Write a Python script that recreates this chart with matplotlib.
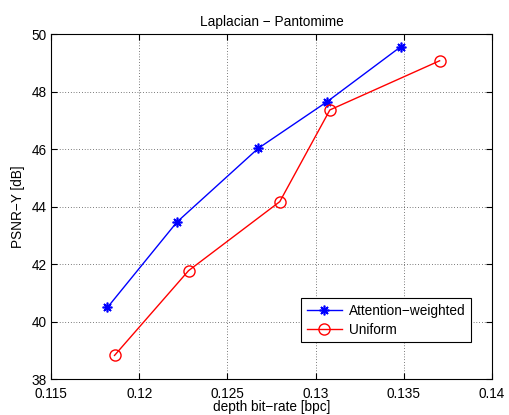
import matplotlib
matplotlib.use("Agg")
from matplotlib import pyplot as plt

# rate (bpc) vs PSNR-Y (dB)
attn_x = [0.1182, 0.12214, 0.12674, 0.13066, 0.13483]
attn_y = [40.49, 43.46, 46.02, 47.65, 49.56]
unif_x = [0.1186, 0.1228, 0.12797, 0.13081, 0.13703]
unif_y = [38.82, 41.77, 44.17, 47.36, 49.07]

xticks = [0.115, 0.12, 0.125, 0.13, 0.135, 0.14]
yticks = [38, 40, 42, 44, 46, 48, 50]

plt.rcParams['font.family'] = ['Liberation Sans', 'DejaVu Sans']
plt.rcParams['font.size'] = 9.8

fig = plt.figure(figsize=(5.1, 4.15), dpi=100)
ax = fig.add_axes([0.1, 0.0867, 0.8647, 0.8313])

ax.plot(attn_x, attn_y, color='blue', lw=1, marker=(8, 2, 0), ms=7, mew=1.2,
        label='Attention\u2212weighted')
ax.plot(unif_x, unif_y, color='red', lw=1, marker='o', ms=8, mfc='none', mew=1,
        label='Uniform')

ax.set_xlim(0.115, 0.14)
ax.set_ylim(38, 50)
ax.set_xticks(xticks)
ax.set_xticklabels([f"{t:g}" for t in xticks])
ax.set_yticks(yticks)
ax.grid(True, linestyle=(0, (1, 3)), color='black', lw=0.5)
ax.tick_params(direction='in', top=True, right=True, length=4, colors='black')
ax.tick_params(axis='x', pad=6)
ax.tick_params(axis='y', pad=3)
for s in ax.spines.values():
    s.set_linewidth(0.8)

ax.set_title("Laplacian \u2212 Pantomime", fontsize=9.8, pad=6)
ax.set_xlabel("depth bit\u2212rate [bpc]", labelpad=-1)
ax.set_ylabel("PSNR\u2212Y [dB]", labelpad=5)

leg = ax.legend(loc='lower right', bbox_to_anchor=(0.952, 0.106), fancybox=False,
                edgecolor='black', framealpha=1, borderaxespad=0, handlelength=2.6,
                borderpad=0.4, labelspacing=0.4, handletextpad=0.5)
leg.get_frame().set_linewidth(0.8)

fig.savefig("out.png", dpi=100)
